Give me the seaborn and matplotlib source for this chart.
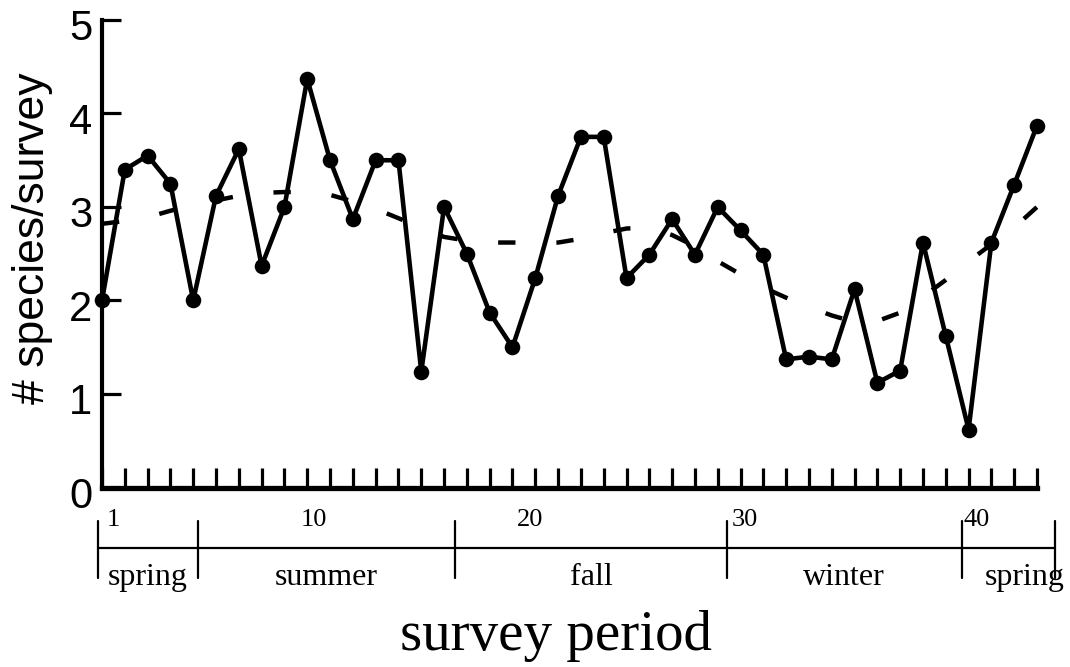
import matplotlib
matplotlib.use("Agg")
import matplotlib.pyplot as plt
import matplotlib.transforms as mtrans
import seaborn as sns
import pandas as pd

# ---------------- data ----------------
periods = list(range(1, 43))
species_per_survey = [2.0, 3.40, 3.55, 3.25, 2.0, 3.12, 3.62, 2.37, 3.0, 4.37,
                      3.50, 2.87, 3.50, 3.50, 1.24, 3.0, 2.5, 1.87, 1.50, 2.24,
                      3.12, 3.75, 3.75, 2.24, 2.49, 2.87, 2.49, 3.0, 2.75, 2.49,
                      1.37, 1.40, 1.37, 2.12, 1.12, 1.25, 2.62, 1.62, 0.62, 2.62,
                      3.24, 3.87]
trend = [2.82, 2.85, 2.89, 2.96, 3.02, 3.07, 3.12, 3.15, 3.16, 3.16,
         3.13, 3.06, 2.98, 2.88, 2.78, 2.68, 2.64, 2.62, 2.62, 2.62,
         2.62, 2.66, 2.72, 2.77, 2.78, 2.70, 2.58, 2.42, 2.28, 2.14,
         2.03, 1.93, 1.84, 1.77, 1.78, 1.87, 2.04, 2.22, 2.42, 2.60,
         2.78, 3.00]
period_tick_labels = ["1", "10", "20", "30", "40"]
season_names = ["spring", "summer", "fall", "winter", "spring"]
season_edges = [0.82, 5.2, 16.5, 28.4, 38.7, 42.8]
y_ticks = [0, 1, 2, 3, 4, 5]

# ---------------- layout ----------------
W, H = 1070, 667
AX_L, AX_R, AX_T, AX_B = 102, 1037, 20, 487.5
period_label_x = [1.22, 9.73, 19.2, 28.6, 38.76]
season_label_shift = [0, 0, 0, 0, 0.7]


def fy(py):
    """pixel row -> axes fraction"""
    return (AX_B - py) / (AX_B - AX_T)


sns.set_theme(style="ticks")
plt.rcParams["font.family"] = ["Liberation Sans", "DejaVu Sans"]
SERIF = ["Liberation Serif", "DejaVu Serif"]

fig = plt.figure(figsize=(W / 100, H / 100), dpi=100)
ax = fig.add_axes([AX_L / W, (H - AX_B) / H, (AX_R - AX_L) / W, (AX_B - AX_T) / H])

df = pd.DataFrame({"period": periods, "species": species_per_survey, "trend": trend})

sns.lineplot(data=df, x="period", y="trend", color="black", linewidth=3.2,
             linestyle=(0, (3.9, 9.2)), ax=ax, clip_on=False)
sns.lineplot(data=df, x="period", y="species", color="black", linewidth=3.3,
             marker="o", markersize=11.2, markeredgecolor="black",
             markeredgewidth=0, ax=ax, clip_on=False)

ax.set_xlim(1, 42)
ax.set_ylim(0, 5)
ax.set_xticks(periods)
ax.set_xticklabels([])
ax.set_yticks(y_ticks)
ax.set_yticklabels([str(t) for t in y_ticks])
ax.tick_params(axis="x", direction="in", length=14.4, width=2.3, color="black")
ax.tick_params(axis="y", direction="in", length=14, width=2.3, color="black",
               labelsize=30, pad=7, labelcolor="black")
shift = mtrans.ScaledTranslation(0, -5 / 100, fig.dpi_scale_trans)
for lab in ax.get_yticklabels():
    lab.set_transform(lab.get_transform() + shift)
for s in ["top", "right"]:
    ax.spines[s].set_visible(False)
ax.spines["left"].set_linewidth(3.0)
ax.spines["bottom"].set_linewidth(3.8)
for s in ["left", "bottom"]:
    ax.spines[s].set_color("black")
    ax.spines[s].set_capstyle("projecting")

ax.set_ylabel("# species/survey", fontsize=32, color="black", va="center")
ax.yaxis.set_label_coords((33 - AX_L) / (AX_R - AX_L), fy(238))
ax.set_xlabel("survey period", fontsize=41, family=SERIF, color="black", va="baseline")
ax.xaxis.set_label_coords((556 - AX_L) / (AX_R - AX_L), fy(650))

trans = ax.get_xaxis_transform()
# period number labels
for xp, lab in zip(period_label_x, period_tick_labels):
    ax.text(xp, fy(526), lab, transform=trans, ha="left", va="baseline",
            fontsize=19, family=SERIF, color="black", clip_on=False)

# season bar
ax.plot([season_edges[0], season_edges[-1]], [fy(548), fy(548)], transform=trans,
        color="black", lw=1.6, clip_on=False)
for e in season_edges:
    ax.plot([e, e], [fy(521), fy(578)], transform=trans, color="black",
            lw=1.6, clip_on=False)
for name, a, b, ds in zip(season_names, season_edges[:-1], season_edges[1:],
                          season_label_shift):
    ax.text((a + b) / 2 + ds, fy(585), name, transform=trans, ha="center",
            va="baseline", fontsize=23, family=SERIF, color="black", clip_on=False)

fig.savefig("out.png", dpi=100)
